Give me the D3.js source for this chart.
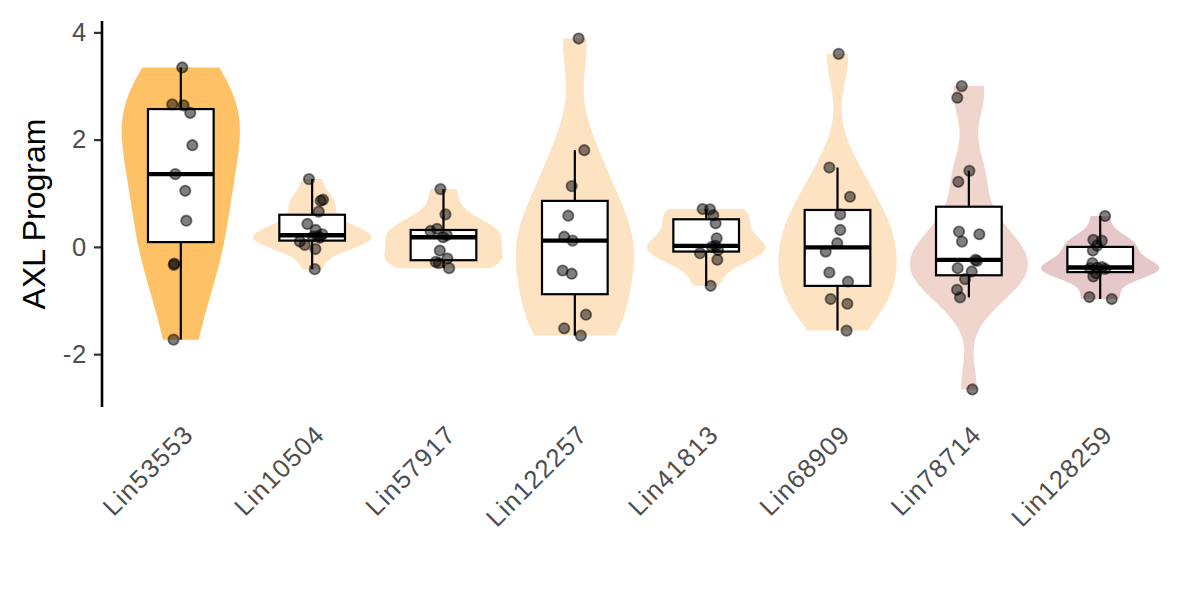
<!DOCTYPE html>
<html>
<head>
<meta charset="utf-8">
<script src="https://cdn.jsdelivr.net/npm/d3@7"></script>
<style>
  html, body { margin: 0; padding: 0; background: #ffffff; }
  svg { display: block; }
  text { font-family: "Liberation Sans", Arial, Helvetica, sans-serif; }
</style>
</head>
<body>
<svg id="chart" width="1200" height="600"></svg>
<script>
// ---------------- data ----------------
const categories = ["Lin53553", "Lin10504", "Lin57917", "Lin122257", "Lin41813", "Lin68909", "Lin78714", "Lin128259"];

const fillColors = ["#FFC166", "#FEE3C2", "#FEE3C2", "#FEE3C2", "#FEE3C2", "#FEE3C2", "#F0D5CC", "#E7C8CA"];

const valuesLin53553 = [3.346, 2.658, 2.64, 2.50, 1.896, 1.357, 1.046, 0.489, -0.31, -0.335, -1.729];
const jitterLin53553 = [0.011, -0.065, 0.021, 0.072, 0.088, -0.042, 0.034, 0.042, -0.05, -0.053, -0.055];

const valuesLin10504 = [1.264, 0.88, 0.86, 0.657, 0.428, 0.316, 0.234, 0.20, 0.19, 0.17, 0.10, 0.037, -0.04, -0.415];
const jitterLin10504 = [-0.024, 0.083, 0.065, 0.05, -0.036, 0.027, 0.078, 0.043, 0.005, 0.058, -0.094, -0.056, 0.025, 0.02];

const valuesLin57917 = [1.078, 0.607, 0.335, 0.297, 0.22, 0.18, -0.068, -0.216, -0.28, -0.303, -0.396];
const jitterLin57917 = [-0.023, 0.015, -0.049, -0.099, 0.025, -0.003, -0.028, 0.03, -0.059, -0.036, 0.043];

const valuesLin122257 = [3.885, 1.803, 1.134, 0.582, 0.19, 0.117, -0.44, -0.50, -1.264, -1.518, -1.654];
const jitterLin122257 = [0.029, 0.072, -0.024, -0.05, -0.081, -0.017, -0.093, -0.024, 0.085, -0.081, 0.046];

const valuesLin41813 = [0.706, 0.70, 0.59, 0.44, 0.16, 0.02, 0.0, -0.057, -0.117, -0.24, -0.725];
const jitterLin41813 = [-0.027, 0.029, 0.054, 0.072, 0.08, 0.072, 0.044, 0.09, -0.047, 0.085, 0.034];

const valuesLin68909 = [3.60, 1.48, 0.935, 0.607, 0.316, 0.069, -0.087, -0.477, -0.645, -0.972, -1.06, -1.561];
const jitterLin68909 = [0.009, -0.062, 0.095, 0.021, 0.021, -0.002, -0.09, -0.062, 0.08, -0.052, 0.075, 0.069];

const valuesLin78714 = [2.998, 2.782, 1.418, 1.214, 0.285, 0.236, 0.099, -0.242, -0.26, -0.396, -0.458, -0.6, -0.80, -0.942, -2.658];
const jitterLin78714 = [-0.054, -0.088, 0.004, -0.08, -0.075, 0.08, -0.052, 0.05, 0.062, -0.085, 0.022, -0.029, -0.09, -0.067, 0.027];

const valuesLin128259 = [0.576, 0.13, 0.117, 0.023, -0.068, -0.303, -0.378, -0.39, -0.40, -0.41, -0.49, -0.552, -0.935, -0.972];
const jitterLin128259 = [0.037, -0.052, 0.012, -0.024, -0.056, -0.059, 0.012, -0.024, -0.077, 0.037, -0.031, -0.052, -0.082, 0.088];

const yTicks = [-2, 0, 2, 4];
const yTitle = "AXL Program";

const seriesValues = [valuesLin53553, valuesLin10504, valuesLin57917, valuesLin122257, valuesLin41813, valuesLin68909, valuesLin78714, valuesLin128259];
const seriesJitter = [jitterLin53553, jitterLin10504, jitterLin57917, jitterLin122257, jitterLin41813, jitterLin68909, jitterLin78714, jitterLin128259];

// ---------------- layout ----------------
const panel = { left: 102, right: 1179, top: 21, bottom: 407 };
const svg = d3.select("#chart");

const x = d3.scalePoint().domain(categories).range([panel.left, panel.right]).padding(0.6);
const step = x.step();

const allVals = seriesValues.flat();
const ext = d3.extent(allVals);
const pad = (ext[1] - ext[0]) * 0.05;
const y = d3.scaleLinear().domain([ext[0] - pad, ext[1] + pad]).range([panel.bottom, panel.top]);

// ---------------- stats ----------------
function bwNrd0(v) {
  const s = v.slice().sort(d3.ascending);
  const sd = d3.deviation(s);
  const iqr = d3.quantile(s, 0.75) - d3.quantile(s, 0.25);
  let lo = Math.min(sd, iqr / 1.34);
  if (!(lo > 0)) lo = sd || Math.abs(s[0]) || 1;
  return 0.9 * lo * Math.pow(s.length, -0.2);
}
function kde(v, n) {
  const h = bwNrd0(v);
  const [lo, hi] = d3.extent(v);
  const out = [];
  for (let i = 0; i < n; i++) {
    const t = lo + (hi - lo) * i / (n - 1);
    let s = 0;
    for (const xi of v) { const u = (t - xi) / h; s += Math.exp(-0.5 * u * u); }
    out.push([t, s / (v.length * h * Math.sqrt(2 * Math.PI))]);
  }
  return out;
}

const gViolin = svg.append("g");
const gBox = svg.append("g");
const gPts = svg.append("g");

categories.forEach((cat, i) => {
  const vals = seriesValues[i];
  const cx = x(cat);
  // violin (scale = width, width 0.9)
  const dens = kde(vals, 512);
  const maxD = d3.max(dens, d => d[1]);
  const hw = d => 0.45 * step * d[1] / maxD;
  const poly = dens.map(d => [cx - hw(d), y(d[0])]).concat(dens.slice().reverse().map(d => [cx + hw(d), y(d[0])]));
  gViolin.append("path")
    .attr("d", d3.line()(poly) + "Z")
    .attr("fill", fillColors[i])
    .attr("stroke", "none");

  // boxplot
  const s = vals.slice().sort(d3.ascending);
  const q1 = d3.quantile(s, 0.25), med = d3.quantile(s, 0.5), q3 = d3.quantile(s, 0.75);
  const iqr = q3 - q1;
  const upper = d3.max(s.filter(v => v <= q3 + 1.5 * iqr));
  const lower = d3.min(s.filter(v => v >= q1 - 1.5 * iqr));
  const bw = 0.5 * step;
  gBox.append("line").attr("x1", cx).attr("x2", cx).attr("y1", y(q3)).attr("y2", y(upper))
    .attr("stroke", "#000").attr("stroke-width", 2.2);
  gBox.append("line").attr("x1", cx).attr("x2", cx).attr("y1", y(q1)).attr("y2", y(lower))
    .attr("stroke", "#000").attr("stroke-width", 2.2);
  gBox.append("rect").attr("x", cx - bw / 2).attr("y", y(q3)).attr("width", bw).attr("height", y(q1) - y(q3))
    .attr("fill", "#ffffff").attr("stroke", "#000").attr("stroke-width", 2.2);
  gBox.append("line").attr("x1", cx - bw / 2).attr("x2", cx + bw / 2).attr("y1", y(med)).attr("y2", y(med))
    .attr("stroke", "#000").attr("stroke-width", 4.4);

  // jittered points
  vals.forEach((v, k) => {
    gPts.append("circle")
      .attr("cx", cx + seriesJitter[i][k] * step)
      .attr("cy", y(v))
      .attr("r", 5.2)
      .attr("fill", "rgba(0,0,0,0.5)")
      .attr("stroke", "rgba(0,0,0,0.5)")
      .attr("stroke-width", 1.8);
  });
});

// ---------------- axes ----------------
const yAxis = svg.append("g")
  .attr("transform", `translate(${panel.left},0)`)
  .call(d3.axisLeft(y).tickValues(yTicks).tickSize(8).tickPadding(7).tickFormat(d3.format("d")));
yAxis.select(".domain").remove();
yAxis.selectAll(".tick line").attr("stroke", "#333333").attr("stroke-width", 2.2);
yAxis.selectAll(".tick text").attr("fill", "#4D4D4D").style("font-size", "25.6px")
  .style("letter-spacing", "0.8px")
  .text(d => d < 0 ? "-" + Math.abs(d) : String(d));
svg.append("line")
  .attr("x1", panel.left).attr("x2", panel.left)
  .attr("y1", panel.top).attr("y2", panel.bottom)
  .attr("stroke", "#000").attr("stroke-width", 2.6);

// x labels
const gx = svg.append("g");
categories.forEach(cat => {
  gx.append("text")
    .attr("transform", `translate(${x(cat) + 1},${panel.bottom + 16}) rotate(-45)`)
    .attr("text-anchor", "end")
    .attr("dy", "0.72em")
    .attr("fill", "#4D4D4D")
    .style("font-size", "25.6px")
    .style("letter-spacing", "1.2px")
    .text(cat);
});

// y title
svg.append("text")
  .attr("transform", `translate(45,${(panel.top + panel.bottom) / 2}) rotate(-90)`)
  .attr("text-anchor", "middle")
  .attr("fill", "#000")
  .style("font-size", "32px")
  .text(yTitle);
</script>
</body>
</html>
